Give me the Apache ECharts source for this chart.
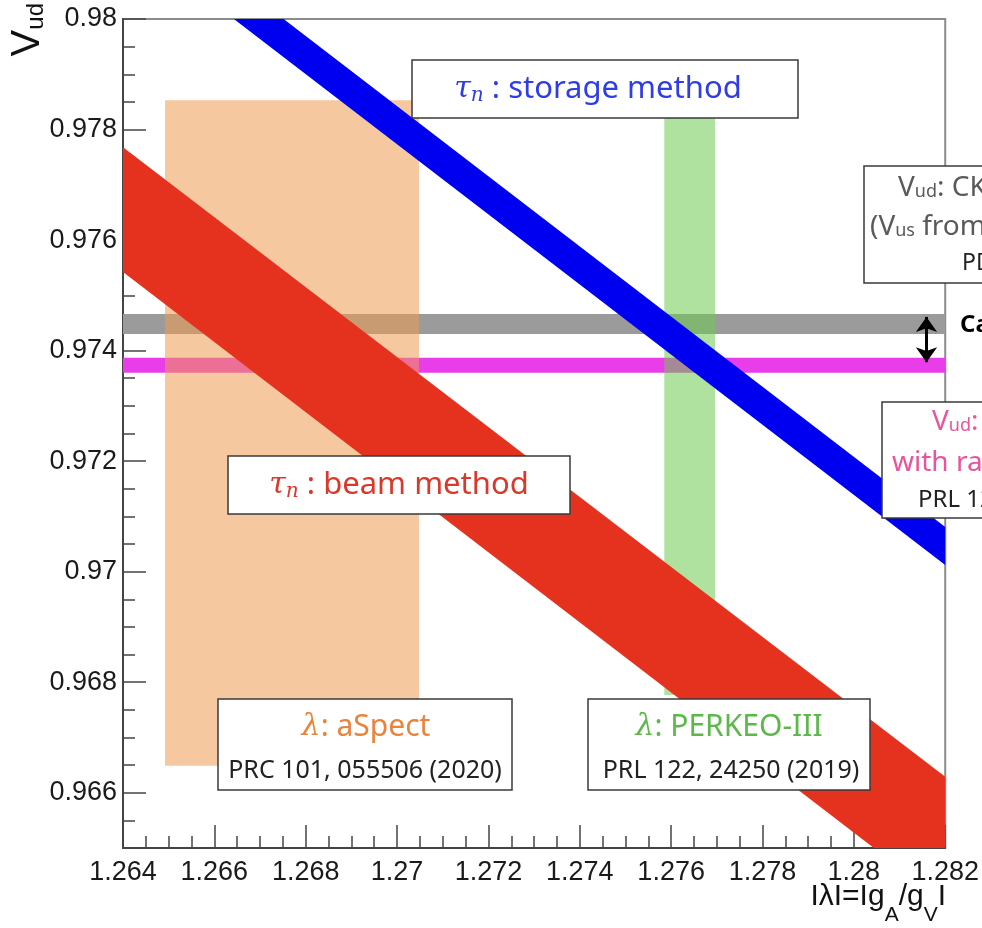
<!DOCTYPE html>
<html>
<head>
<meta charset="utf-8">
<title>Vud vs lambda</title>
<script src="https://cdn.jsdelivr.net/npm/echarts@6/dist/echarts.min.js"></script>
<style>
  html, body { margin: 0; padding: 0; background: #fff; }
  #chart1 { width: 982px; height: 928px; }
</style>
</head>
<body>
<div id="chart1"></div>
<script>
// axes
var xRange = [1.264, 1.282];
var yRange = [0.965, 0.98];
var xTicks = [1.264, 1.266, 1.268, 1.27, 1.272, 1.274, 1.276, 1.278, 1.28, 1.282];
var yTicks = [0.966, 0.968, 0.97, 0.972, 0.974, 0.976, 0.978, 0.98];

// tau_n bands, Vud edges at bandX[0] and bandX[1]
var bandX = [1.264, 1.282];
var beamUpper = [0.97768, 0.96629];
var beamLower = [0.97542, 0.96401];
var storageUpper = [0.98223, 0.97081];
var storageLower = [0.98154, 0.97012];

// horizontal Vud bands [low, high]
var ckmBand = [0.97430, 0.97466];
var superBand = [0.97360, 0.97387];

// lambda measurements
var aspectX = [1.26492, 1.27048];
var aspectY = [0.96649, 0.97853];
var perkeoX = [1.27585, 1.27696];
var perkeoY = [0.96777, 0.97821];

// arrow between the two horizontal bands
var arrowX = 1.28159;
var arrowY = [0.97461, 0.97379];

var sans = "'Noto Sans', sans-serif";
var greek = "'DejaVu Serif', serif";
var helv = "'Liberation Sans', Arial, sans-serif";

function bandItem(upper, lower, color) {
  return function (params, api) {
    var pts = [
      api.coord([bandX[0], upper[0]]),
      api.coord([bandX[1], upper[1]]),
      api.coord([bandX[1], lower[1]]),
      api.coord([bandX[0], lower[0]])
    ];
    return { type: 'polygon', shape: { points: pts }, style: { fill: color } };
  };
}

function rectItem(xs, ys, color) {
  return function (params, api) {
    var p0 = api.coord([xs[0], ys[1]]);
    var p1 = api.coord([xs[1], ys[0]]);
    return {
      type: 'rect',
      shape: { x: p0[0], y: p0[1], width: p1[0] - p0[0], height: p1[1] - p0[1] },
      style: { fill: color }
    };
  };
}

function customSeries(render) {
  return {
    type: 'custom',
    silent: true,
    clip: true,
    renderItem: render,
    data: [[xRange[0], yRange[0]]]
  };
}

function box(x, y, w, h) {
  return {
    type: 'rect', z: 100,
    shape: { x: x, y: y, width: w, height: h },
    style: { fill: '#fff', stroke: '#3a3a3a', lineWidth: 1.5 }
  };
}

function label(x, y, text, align, rich, extra) {
  var st = { text: text, align: align, verticalAlign: 'middle', rich: rich,
             fontFamily: sans, fontSize: 25, fill: '#222' };
  for (var k in extra) st[k] = extra[k];
  return { type: 'text', z: 101, x: x, y: y, style: st };
}

var tauRich = function (color) {
  return {
    g: { fontFamily: greek, fontStyle: 'italic', fontSize: 30, fill: color },
    n: { fontFamily: greek, fontStyle: 'italic', fontSize: 20, fill: color, padding: [14, 0, 0, 0] },
    t: { fontFamily: sans, fontSize: 31, fill: color }
  };
};
var lamRich = function (color) {
  return {
    g: { fontFamily: greek, fontStyle: 'italic', fontSize: 30, fill: color },
    t: { fontFamily: sans, fontSize: 30, fill: color }
  };
};
var vudRich = function (color) {
  return {
    v: { fontFamily: sans, fontSize: 28, fill: color },
    s: { fontFamily: sans, fontSize: 18, fill: color, padding: [8, 0, 0, 0] },
    t: { fontFamily: sans, fontSize: 28, fill: color }
  };
};

var myChart = echarts.init(document.getElementById('chart1'));
var option = {
  backgroundColor: '#fff',
  animation: false,
  grid: {
    left: 123, right: 34, top: 19, bottom: 80,
    show: true, borderColor: '#8c8c8c', borderWidth: 2, backgroundColor: 'transparent'
  },
  xAxis: {
    type: 'value', min: xRange[0], max: xRange[1], interval: 0.002,
    axisLine: { show: true, onZero: false, lineStyle: { color: '#444', width: 2 } },
    axisTick: { show: true, inside: true, length: 23, customValues: xTicks, lineStyle: { color: '#444', width: 1.5 } },
    minorTick: { show: true, splitNumber: 4, length: 12, lineStyle: { color: '#444', width: 1.5 } },
    axisLabel: { customValues: xTicks, fontFamily: helv, fontSize: 27, color: '#1a1a1a', margin: 11 },
    splitLine: { show: false }, minorSplitLine: { show: false }
  },
  yAxis: [
    {
      type: 'value', min: yRange[0], max: yRange[1], interval: 0.0005,
      axisLine: { show: true, onZero: false, lineStyle: { color: '#444', width: 2 } },
      axisTick: { show: true, inside: true, length: 12, lineStyle: { color: '#444', width: 1.5 } },
      axisLabel: { show: false },
      splitLine: { show: false }
    },
    {
      type: 'value', min: yRange[0], max: yRange[1], position: 'left',
      axisLine: { show: false },
      axisTick: { show: true, inside: true, length: 23, customValues: yTicks, lineStyle: { color: '#444', width: 1.5 } },
      axisLabel: { customValues: yTicks, fontFamily: helv, fontSize: 27, color: '#1a1a1a', margin: 6 },
      splitLine: { show: false }
    }
  ],
  series: [
    customSeries(rectItem(xRange, ckmBand, '#9b9b9b')),
    customSeries(rectItem(xRange, superBand, '#e83de8')),
    customSeries(rectItem(aspectX, aspectY, 'rgba(238,155,80,0.55)')),
    customSeries(rectItem(perkeoX, perkeoY, 'rgba(110,200,80,0.55)')),
    customSeries(bandItem(beamUpper, beamLower, '#e5321f')),
    customSeries(bandItem(storageUpper, storageLower, '#0000f0')),
    {
      type: 'line', silent: true, symbol: 'none', data: [[arrowX, arrowY[0]]],
      lineStyle: { width: 0 },
      markLine: {
        silent: true, symbol: ['arrow', 'arrow'], symbolSize: [16, 15],
        label: { show: false },
        lineStyle: { color: '#000', width: 3, type: 'solid' },
        data: [[{ coord: [arrowX, arrowY[0]] }, { coord: [arrowX, arrowY[1]] }]]
      }
    }
  ],
  graphic: [
    // axis titles
    label(28, 3, '{v|V}{s|ud}', 'right', {
      v: { fontFamily: helv, fontSize: 40, fill: '#111' },
      s: { fontFamily: helv, fontSize: 24, fill: '#111', padding: [16, 0, 0, 0] }
    }, {}),
    label(946, 897, '{m|I\u03bbI=Ig}{s|A}{m|/g}{s|V}{m|I}', 'right', {
      m: { fontFamily: helv, fontSize: 30, fill: '#111' },
      s: { fontFamily: helv, fontSize: 21, fill: '#111', padding: [36, 0, 0, 0] }
    }, {}),

    box(412, 60, 386, 58),
    label(598, 89, '{g|\u03c4}{n|n}{t| : storage method}', 'center', tauRich('#2e3de6'), {}),

    box(228, 456, 342, 58),
    label(399, 485, '{g|\u03c4}{n|n}{t| : beam method}', 'center', tauRich('#d9382a'), {}),

    box(218, 699, 294, 91),
    label(366, 727, '{g|\u03bb}{t|: aSpect}', 'center', lamRich('#e8843c'), {}),
    label(365, 771, 'PRC 101, 055506 (2020)', 'center', null, {}),

    box(588, 699, 282, 91),
    label(729, 727, '{g|\u03bb}{t|: PERKEO-III}', 'center', lamRich('#5cb84a'), {}),
    label(731, 771, 'PRL 122, 24250 (2019)', 'center', null, {}),

    box(864, 166, 200, 117),
    label(898, 188, '{v|V}{s|ud}{t|: CKM unitarity}', 'left', vudRich('#5a5a5a'), {}),
    label(870, 227, '{t|(}{v|V}{s|us}{t| from K decays)}', 'left', vudRich('#5a5a5a'), {}),
    label(962, 263, 'PDG 2020', 'left', null, { fontSize: 23 }),

    label(960, 325, 'Cabibbo anomaly', 'left', null, { fontSize: 24, fontWeight: 'bold', fill: '#000' }),

    box(882, 402, 200, 116),
    label(932, 422, '{v|V}{s|ud}{t|: superallowed}', 'left', vudRich('#e8559a'), {}),
    label(892, 463, '{t|with radiative corr.}', 'left', vudRich('#e8559a'), {}),
    label(918, 500, 'PRL 123, 2019', 'left', null, { fontSize: 24 })
  ]
};
// y title reads upward
option.graphic[0].rotation = Math.PI / 2;

myChart.setOption(option);
</script>
</body>
</html>
